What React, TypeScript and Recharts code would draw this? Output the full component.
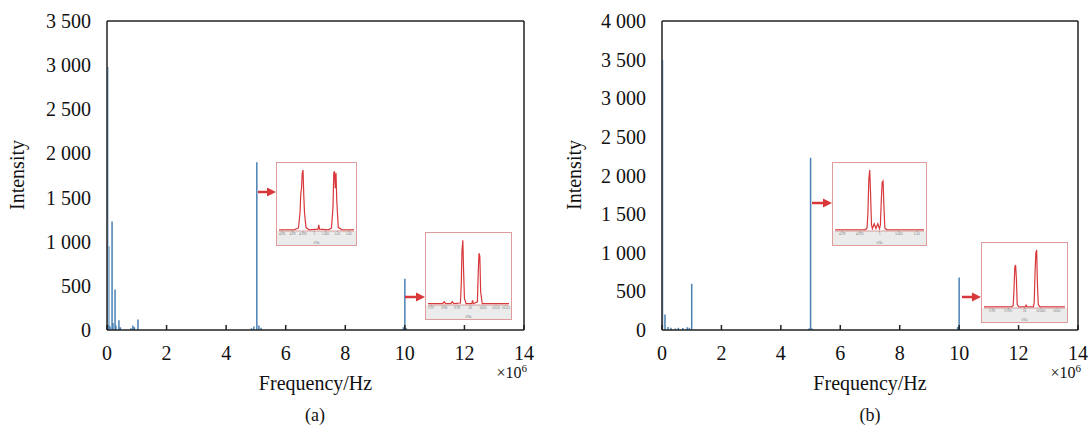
import { ComposedChart, Line, LineChart, ReferenceLine, XAxis, YAxis } from "recharts";

// panel (a) spectrum
const faintFreqA = [0.03, 0.07];
const faintIntA = [2980, 950];
const freqA = [0.05, 0.1, 0.17, 0.2, 0.27, 0.3, 0.4, 0.45, 0.8, 0.87, 0.92, 1.04, 4.85, 4.93, 5.03, 5.1, 5.17, 9.95, 10.0, 10.05];
const intA = [60, 40, 1230, 80, 460, 50, 110, 30, 20, 50, 30, 120, 20, 40, 1900, 50, 25, 30, 580, 20];

// panel (b) spectrum
const faintFreqB = [0.02];
const faintIntB = [3500];
const freqB = [0.1, 0.2, 0.3, 0.45, 0.55, 0.7, 0.85, 0.92, 1.0, 4.95, 5.0, 5.05, 9.95, 10.0];
const intB = [200, 40, 30, 20, 30, 25, 35, 30, 600, 20, 2230, 20, 40, 680];

const xTicks = [0, 2, 4, 6, 8, 10, 12, 14];
const yTicksA = [0, 500, 1000, 1500, 2000, 2500, 3000, 3500];
const yTicksB = [0, 500, 1000, 1500, 2000, 2500, 3000, 3500, 4000];

// zoomed insets (relative position %, relative height)
const a1X = [0, 20, 26, 28, 29, 30, 31, 32, 33, 34, 36, 40, 52, 53, 54, 66, 70, 72, 73, 74, 75, 76, 77, 79, 84, 100];
const a1Y = [0.02, 0.02, 0.05, 0.3, 0.6, 0.7, 0.95, 1.0, 0.6, 0.3, 0.06, 0.02, 0.03, 0.1, 0.03, 0.02, 0.05, 0.4, 0.95, 0.98, 0.7, 0.95, 0.5, 0.06, 0.02, 0.02];
const a1TickPos = [4, 18, 32, 47, 62, 78, 93];
const a1TickLab = ["4.98", "4.99", "4.995", "5", "5.005", "5.01", "5.02"];

const a2X = [0, 18, 20, 22, 28, 30, 32, 40, 41, 42, 43, 44, 45, 47, 54, 55, 56, 61, 62, 63, 64, 65, 67, 100];
const a2Y = [0.02, 0.02, 0.05, 0.02, 0.02, 0.05, 0.02, 0.03, 0.3, 0.85, 1.0, 0.5, 0.1, 0.02, 0.02, 0.07, 0.02, 0.05, 0.5, 0.8, 0.75, 0.2, 0.02, 0.02];
const a2TickPos = [4, 20, 36, 52, 68, 84, 96];
const a2TickLab = ["9.97", "9.98", "9.99", "10", "10.01", "10.02", "10.03"];

const b1X = [0, 34, 36, 37, 38, 39, 40, 41, 42, 44, 46, 48, 50, 51, 52, 53, 54, 55, 56, 58, 100];
const b1Y = [0.02, 0.02, 0.05, 0.3, 0.85, 1.0, 0.6, 0.1, 0.04, 0.12, 0.04, 0.12, 0.04, 0.1, 0.5, 0.8, 0.82, 0.4, 0.05, 0.02, 0.02];
const b1TickPos = [8, 28, 50, 72, 92];
const b1TickLab = ["4.99", "4.995", "5", "5.005", "5.01"];

const b2X = [0, 34, 36, 37, 38, 39, 40, 41, 43, 51, 52, 53, 61, 62, 63, 64, 65, 66, 67, 69, 100];
const b2Y = [0.02, 0.02, 0.04, 0.3, 0.7, 0.74, 0.5, 0.06, 0.02, 0.02, 0.05, 0.02, 0.02, 0.1, 0.6, 0.95, 1.0, 0.4, 0.06, 0.02, 0.02];
const b2TickPos = [10, 30, 50, 70, 90];
const b2TickLab = ["9.99", "9.995", "10", "10.005", "10.01"];

const BLUE = "#4a82b4";
const FAINT = "#8fb3d3";
const RED = "#d8383a";
const FONT = "Liberation Serif, Times New Roman, DejaVu Serif, serif";

function spikes(freq: number[], amp: number[]) {
  const rows: Array<{ f: number; v: number | null }> = [];
  freq.forEach((f, i) => {
    rows.push({ f, v: 0 });
    rows.push({ f, v: amp[i] });
    rows.push({ f, v: null });
  });
  return rows;
}

const fmtY = (v: number) =>
  v >= 1000 ? `${Math.floor(v / 1000)} ${String(v % 1000).padStart(3, "0")}` : String(v);

const XTick = (props: any) => {
  const { x, y, payload } = props;
  return (
    <g>
      <line x1={x} x2={x} y1={y} y2={y - 5} stroke="#222" strokeWidth={1.5} />
      <text x={x} y={y + 30} textAnchor="middle" fill="#111" style={{ fontFamily: FONT, fontSize: 20 }}>
        {payload.value}
      </text>
    </g>
  );
};

const YTick = (props: any) => {
  const { x, y, payload } = props;
  return (
    <text x={x} y={y + 7} textAnchor="end" fill="#111" style={{ fontFamily: FONT, fontSize: 20 }}>
      {fmtY(payload.value)}
    </text>
  );
};

function Spectrum({
  width,
  right,
  yMax,
  yTicks,
  faint,
  main,
}: {
  width: number;
  right: number;
  yMax: number;
  yTicks: number[];
  faint: Array<{ f: number; v: number | null }>;
  main: Array<{ f: number; v: number | null }>;
}) {
  return (
    <ComposedChart width={width} height={430} margin={{ top: 21, right, bottom: 70, left: 37 }}>
      <XAxis
        dataKey="f"
        type="number"
        domain={[0, 14]}
        ticks={xTicks}
        allowDuplicatedCategory
        height={30}
        tickSize={0}
        tickMargin={0}
        tick={<XTick />}
        axisLine={{ stroke: "#222", strokeWidth: 1.5 }}
        tickLine={false}
      />
      <YAxis
        type="number"
        domain={[0, yMax]}
        ticks={yTicks}
        width={70}
        tickSize={0}
        tickMargin={16}
        tick={<YTick />}
        axisLine={{ stroke: "#222", strokeWidth: 1.5 }}
        tickLine={false}
        interval={0}
      />
      <ReferenceLine y={yMax} stroke="#222" strokeWidth={1.5} />
      <ReferenceLine x={14} stroke="#222" strokeWidth={1.5} />
      <Line data={faint} dataKey="v" stroke={FAINT} strokeWidth={1.5} dot={false} activeDot={false} isAnimationActive={false} connectNulls={false} />
      <Line data={main} dataKey="v" stroke={BLUE} strokeWidth={1.5} dot={false} activeDot={false} isAnimationActive={false} connectNulls={false} />
    </ComposedChart>
  );
}

function Inset({
  left,
  top,
  w,
  h,
  xs,
  ys,
  tickPos,
  tickLab,
}: {
  left: number;
  top: number;
  w: number;
  h: number;
  xs: number[];
  ys: number[];
  tickPos: number[];
  tickLab: string[];
}) {
  const data = xs.map((x, i) => ({ x, y: ys[i] }));
  return (
    <div
      style={{
        position: "absolute",
        left,
        top,
        width: w,
        height: h,
        border: "1px solid #de9c9c",
        background: "#fff",
        boxSizing: "border-box",
      }}
    >
      <div style={{ position: "absolute", left: 0, right: 0, bottom: 0, height: 14, background: "#ebebeb" }} />
      <div style={{ position: "absolute", left: 0, top: 0 }}>
        <LineChart width={w - 2} height={h - 2} data={data} margin={{ top: 4, right: 2, bottom: 0, left: 2 }}>
          <XAxis
            dataKey="x"
            type="number"
            domain={[0, 100]}
            ticks={tickPos}
            interval={0}
            height={14}
            tickSize={1}
            tickMargin={1}
            tickFormatter={(v: number) => tickLab[tickPos.indexOf(v)] ?? ""}
            tick={{ fontSize: 3.5, fill: "#777" }}
            axisLine={{ stroke: "#d49a9a" }}
            tickLine={{ stroke: "#999" }}
            label={{ value: "f/Hz", position: "insideBottom", offset: 1, fontSize: 3.5, fill: "#777" }}
          />
          <YAxis hide domain={[0, 1.05]} />
          <Line dataKey="y" type="linear" stroke={RED} strokeWidth={1.2} dot={false} activeDot={false} isAnimationActive={false} />
        </LineChart>
      </div>
    </div>
  );
}

const Arrow = ({ x1, x2, y }: { x1: number; x2: number; y: number }) => (
  <g>
    <line x1={x1} x2={x2 - 8} y1={y} y2={y} stroke={RED} strokeWidth={2.5} />
    <polygon points={`${x2},${y} ${x2 - 9},${y - 4.5} ${x2 - 9},${y + 4.5}`} fill={RED} />
  </g>
);

const txt = (size: number) => ({ fontFamily: FONT, fontSize: size });

export default function App() {
  return (
    <div style={{ position: "absolute", left: 0, top: 0, width: 1089, height: 430, background: "#fff", fontFamily: FONT }}>
      <div style={{ position: "absolute", left: 0, top: 0 }}>
        <Spectrum width={545} right={21} yMax={3500} yTicks={yTicksA} faint={spikes(faintFreqA, faintIntA)} main={spikes(freqA, intA)} />
      </div>
      <div style={{ position: "absolute", left: 555, top: 0 }}>
        <Spectrum width={534} right={11} yMax={4000} yTicks={yTicksB} faint={spikes(faintFreqB, faintIntB)} main={spikes(freqB, intB)} />
      </div>

      <Inset left={276} top={162} w={81} h={84} xs={a1X} ys={a1Y} tickPos={a1TickPos} tickLab={a1TickLab} />
      <Inset left={425} top={232} w={87} h={88} xs={a2X} ys={a2Y} tickPos={a2TickPos} tickLab={a2TickLab} />
      <Inset left={832} top={162} w={95} h={84} xs={b1X} ys={b1Y} tickPos={b1TickPos} tickLab={b1TickLab} />
      <Inset left={981} top={242} w={87} h={81} xs={b2X} ys={b2Y} tickPos={b2TickPos} tickLab={b2TickLab} />

      <svg width={1089} height={430} style={{ position: "absolute", left: 0, top: 0, pointerEvents: "none" }}>
        <Arrow x1={258} x2={276} y={192} />
        <Arrow x1={405} x2={425} y={297} />
        <Arrow x1={812} x2={832} y={203} />
        <Arrow x1={962} x2={981} y={297} />

        <g fill="#111">
          <text x={24} y={175} style={txt(20)} textAnchor="middle" transform="rotate(-90 24 175)">Intensity</text>
          <text x={581} y={175} style={txt(20)} textAnchor="middle" transform="rotate(-90 581 175)">Intensity</text>
          <text x={315.5} y={390} style={txt(20)} textAnchor="middle">Frequency/Hz</text>
          <text x={870} y={390} style={txt(20)} textAnchor="middle">Frequency/Hz</text>
          <text x={527} y={378} style={txt(16)} textAnchor="end">
            ×10<tspan style={txt(11)} dy={-6}>6</tspan>
          </text>
          <text x={1081} y={378} style={txt(16)} textAnchor="end">
            ×10<tspan style={txt(11)} dy={-6}>6</tspan>
          </text>
          <text x={315} y={421} style={txt(18)} textAnchor="middle">(a)</text>
          <text x={870} y={421} style={txt(18)} textAnchor="middle">(b)</text>
        </g>
      </svg>
    </div>
  );
}
